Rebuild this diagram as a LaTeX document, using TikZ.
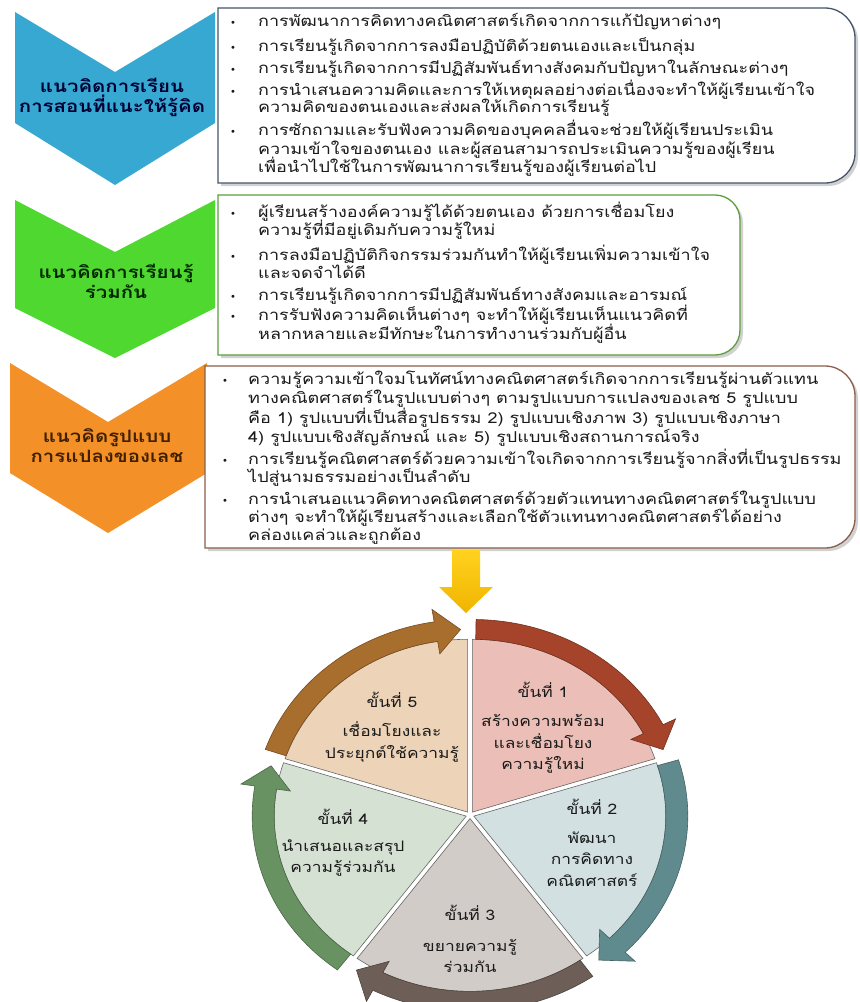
\documentclass[tikz,border=0pt]{standalone}
\usepackage{fontspec}
\newfontfamily\thai[Script=Thai,FakeStretch=1.2]{Loma}
\newfontfamily\symfont{DejaVu Sans}
\definecolor{cblue}{HTML}{37A8D2}
\definecolor{cgreen}{HTML}{4FD930}
\definecolor{corange}{HTML}{F39028}
\definecolor{bblue}{HTML}{44566A}
\definecolor{bgreen}{HTML}{5C9E3D}
\definecolor{borange}{HTML}{8B5E49}
\definecolor{yel1}{HTML}{FFD21E}
\definecolor{yel2}{HTML}{F0B400}
\definecolor{sAf}{HTML}{EBBFB7}\definecolor{sAa}{HTML}{A5442B}
\definecolor{sBf}{HTML}{D2E0E2}\definecolor{sBa}{HTML}{5F8B8E}
\definecolor{sCf}{HTML}{D2CCC9}\definecolor{sCa}{HTML}{6D5F57}
\definecolor{sDf}{HTML}{D5E2D3}\definecolor{sDa}{HTML}{699263}
\definecolor{sEf}{HTML}{EDD4B8}\definecolor{sEa}{HTML}{A86E2E}
\definecolor{txt}{HTML}{1A1A1A}
\begin{document}
\begin{tikzpicture}[x=1pt,y=-1pt,
  ln/.style={font=\thai\fontsize{15}{18}\selectfont, anchor=base west, inner sep=0pt, text=txt},
  bul/.style={font=\symfont\fontsize{10}{10}\selectfont, anchor=base, inner sep=0pt, text=txt},
  chev/.style={font=\thai\bfseries\fontsize{17}{20}\selectfont, align=center, inner sep=0pt},
  ph/.style={font=\thai\fontsize{14.5}{21.5}\selectfont, align=center, inner sep=0pt, text=txt},
]
\useasboundingbox (0,0) rectangle (860,1002);
\fill[white] (0,0) rectangle (860,1002);

% ---------- chevrons ----------
\fill[cblue] (15,12) -- (115,72) -- (215,12) -- (215,123) -- (115,185) -- (15,123) -- cycle;
\node[chev, text=black!80!blue] (c1) at (112,97) {แนวคิดการเรียน\\การสอนที่แนะให้รู้คิด};
\fill[cgreen] (15,200) -- (115,252) -- (215,200) -- (215,308) -- (115,358) -- (15,308) -- cycle;
\node[chev, text=black!85!green] (c2) at (116,281) {แนวคิดการเรียนรู้\\ร่วมกัน};
\fill[corange] (10,363) -- (108,422) -- (207,363) -- (207,473) -- (108,533) -- (10,473) -- cycle;
\node[chev, text=black!75!orange] (c3) at (107,446) {แนวคิดรูปแบบ\\การแปลงของเลช};

% ---------- boxes ----------
\fill[black!18] (221,11) -- (828,11) .. controls (844.5,11) and (858,24.5) .. (858,41) -- (858,156) .. controls (858,172.5) and (844.5,186) .. (828,186) -- (221,186) -- cycle;
\filldraw[fill=white, draw=bblue, line width=1.3] (218,8) -- (825,8) .. controls (841.5,8) and (855,21.5) .. (855,38) -- (855,153) .. controls (855,169.5) and (841.5,183) .. (825,183) -- (218,183) -- cycle;
\fill[black!18] (221,198) -- (718,198) .. controls (731.8,198) and (743,209.2) .. (743,223) -- (743,333) .. controls (743,346.8) and (731.8,358) .. (718,358) -- (221,358) -- cycle;
\filldraw[fill=white, draw=bgreen, line width=1.3] (218,195) -- (715,195) .. controls (728.8,195) and (740,206.2) .. (740,220) -- (740,330) .. controls (740,343.8) and (728.8,355) .. (715,355) -- (218,355) -- cycle;
\fill[black!18] (208,369) -- (828,369) .. controls (844.5,369) and (858,382.5) .. (858,399) -- (858,521) .. controls (858,537.5) and (844.5,551) .. (828,551) -- (208,551) -- cycle;
\filldraw[fill=white, draw=borange, line width=1.3] (205,366) -- (825,366) .. controls (841.5,366) and (855,379.5) .. (855,396) -- (855,518) .. controls (855,534.5) and (841.5,548) .. (825,548) -- (205,548) -- cycle;

% box 1 text
\foreach \y in {26,51,73,95,135} \node[bul] at (233,\y) {•};
\node[ln] (a1) at (258,26) {การพัฒนาการคิดทางคณิตศาสตร์เกิดจากการแก้ปัญหาต่างๆ};
\node[ln] (a2) at (258,51) {การเรียนรู้เกิดจากการลงมือปฏิบัติด้วยตนเองและเป็นกลุ่ม};
\node[ln] (a3) at (258,73) {การเรียนรู้เกิดจากการมีปฏิสัมพันธ์ทางสังคมกับปัญหาในลักษณะต่างๆ};
\node[ln] (a4) at (258,95) {การนำเสนอความคิดและการให้เหตุผลอย่างต่อเนื่องจะทำให้ผู้เรียนเข้าใจ};
\node[ln] (a5) at (258,112) {ความคิดของตนเองและส่งผลให้เกิดการเรียนรู้};
\node[ln] (a6) at (258,135) {การซักถามและรับฟังความคิดของบุคคลอื่นจะช่วยให้ผู้เรียนประเมิน};
\node[ln] (a7) at (258,154) {ความเข้าใจของตนเอง และผู้สอนสามารถประเมินความรู้ของผู้เรียน};
\node[ln] (a8) at (258,172) {เพื่อนำไปใช้ในการพัฒนาการเรียนรู้ของผู้เรียนต่อไป};

% box 2 text
\foreach \y in {217,260,300,320} \node[bul] at (233,\y) {•};
\node[ln] (b1) at (258,217) {ผู้เรียนสร้างองค์ความรู้ได้ด้วยตนเอง ด้วยการเชื่อมโยง};
\node[ln] (b2) at (258,235) {ความรู้ที่มีอยู่เดิมกับความรู้ใหม่};
\node[ln] (b3) at (258,260) {การลงมือปฏิบัติกิจกรรมร่วมกันทำให้ผู้เรียนเพิ่มความเข้าใจ};
\node[ln] (b4) at (258,278) {และจดจำได้ดี};
\node[ln] (b5) at (258,300) {การเรียนรู้เกิดจากการมีปฏิสัมพันธ์ทางสังคมและอารมณ์};
\node[ln] (b6) at (258,320) {การรับฟังความคิดเห็นต่างๆ จะทำให้ผู้เรียนเห็นแนวคิดที่};
\node[ln] (b7) at (258,339) {หลากหลายและมีทักษะในการทำงานร่วมกับผู้อื่น};

% box 3 text
\foreach \y in {384,464,504} \node[bul] at (225,\y) {•};
\node[ln] (d1) at (248,384) {ความรู้ความเข้าใจมโนทัศน์ทางคณิตศาสตร์เกิดจากการเรียนรู้ผ่านตัวแทน};
\node[ln] (d2) at (248,403) {ทางคณิตศาสตร์ในรูปแบบต่างๆ ตามรูปแบบการแปลงของเลช 5 รูปแบบ};
\node[ln] (d3) at (248,423) {คือ 1) รูปแบบที่เป็นสื่อรูปธรรม 2) รูปแบบเชิงภาพ 3) รูปแบบเชิงภาษา};
\node[ln] (d4) at (248,442) {4) รูปแบบเชิงสัญลักษณ์ และ 5) รูปแบบเชิงสถานการณ์จริง};
\node[ln] (d5) at (248,464) {การเรียนรู้คณิตศาสตร์ด้วยความเข้าใจเกิดจากการเรียนรู้จากสิ่งที่เป็นรูปธรรม};
\node[ln] (d6) at (248,482) {ไปสู่นามธรรมอย่างเป็นลำดับ};
\node[ln] (d7) at (248,504) {การนำเสนอแนวคิดทางคณิตศาสตร์ด้วยตัวแทนทางคณิตศาสตร์ในรูปแบบ};
\node[ln] (d8) at (248,522) {ต่างๆ จะทำให้ผู้เรียนสร้างและเลือกใช้ตัวแทนทางคณิตศาสตร์ได้อย่าง};
\node[ln] (d9) at (248,540) {คล่องแคล่วและถูกต้อง};

% ---------- yellow arrow ----------
\shade[top color=yel1, bottom color=yel2] (452,550) -- (480,550) -- (480,587) -- (493,587) -- (466,613) -- (439,587) -- (452,587) -- cycle;

% ---------- pie ----------
\begin{scope}[shift={(470,815)}, yscale=-0.9]
\foreach \as/\fc in {90/sAf,18/sBf,-54/sCf,-126/sDf,-198/sEf}{
  \pgfmathsetmacro\ae{\as-72}
  \pgfmathsetmacro\bi{\as-36}
  \begin{scope}[shift={(\bi:4)}]
    \filldraw[fill=\fc, draw=black!60, line width=0.6] (0,0) -- (\as:192) arc[start angle=\as, end angle=\ae, radius=192] -- cycle;
  \end{scope}
}
\foreach \as/\ac in {18/sBa,-54/sCa,-126/sDa,-198/sEa,90/sAa}{
  \pgfmathsetmacro\st{\as-1}
  \pgfmathsetmacro\hb{\as-63}
  \pgfmathsetmacro\tp{\as-70}
  \pgfmathsetmacro\bi{\as-36}
  \begin{scope}[shift={(\bi:4)}]
    \filldraw[fill=\ac, draw=\ac!70!black, line width=0.6] (\st:214) arc[start angle=\st, end angle=\hb, radius=214] -- (\hb:228) -- (\tp:203) -- (\hb:178) -- (\hb:192) arc[start angle=\hb, end angle=\st, radius=192] -- cycle;
  \end{scope}
}
\end{scope}

\node[ph] (h1) at (543,690) {ขั้นที่ 1};
\node[ph] (t1) at (543,744) {สร้างความพร้อม\\และเชื่อมโยง\\ความรู้ใหม่};
\node[ph] (h2) at (592,807) {ขั้นที่ 2};
\node[ph] (t2) at (592,859) {พัฒนา\\การคิดทาง\\คณิตศาสตร์};
\node[ph] (h3) at (470,913) {ขั้นที่ 3};
\node[ph] (t3) at (470,956) {ขยายความรู้\\ร่วมกัน};
\node[ph] (h4) at (343,817) {ขั้นที่ 4};
\node[ph] (t4) at (343,858) {นำเสนอและสรุป\\ความรู้ร่วมกัน};
\node[ph] (h5) at (392,700) {ขั้นที่ 5};
\node[ph] (t5) at (392,742) {เชื่อมโยงและ\\ประยุกต์ใช้ความรู้};
\end{tikzpicture}
\end{document}
